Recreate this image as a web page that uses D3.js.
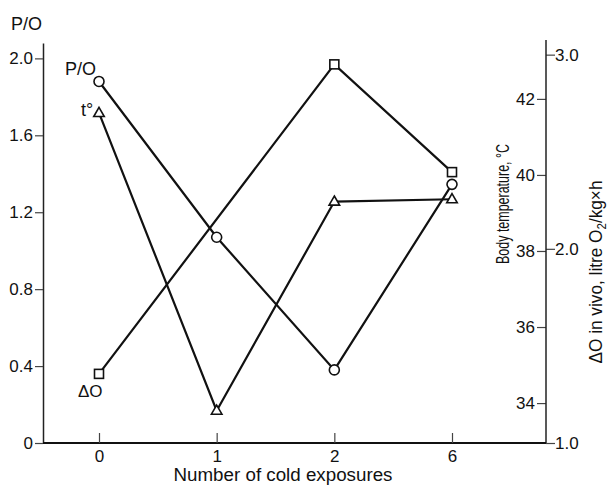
<!DOCTYPE html>
<html><head><meta charset="utf-8">
<script src="https://cdn.jsdelivr.net/npm/d3@7"></script>
<style>body{margin:0;background:#fff}text{font-family:"Liberation Sans",Arial,sans-serif;fill:#111}</style>
</head><body><svg id="c" width="613" height="487"></svg>
<script>
const categories = ["0","1","2","6"];
const poValues = [1.88, 1.07, 0.38, 1.345];
const tempValues = [41.63, 33.8, 39.3, 39.36];
const dOCats = ["0","2","6"];
const dOValues = [1.356, 2.95, 2.395];
const poTicks = [0, 0.4, 0.8, 1.2, 1.6, 2.0];
const tempTicks = [34, 36, 38, 40, 42];
const dOTicks = [1.0, 2.0, 3.0];

const svg = d3.select("#c");
const x = d3.scalePoint().domain(categories).range([99, 452]);
const yPO = d3.scaleLinear().domain([0, 2.08]).range([443, 43]);
const yT = d3.scaleLinear().domain([32.95, 43.47]).range([443, 43]);
const yD = d3.scaleLinear().domain([1, 3.06]).range([443, 43]);

const fs = 17;
const ff = '"Liberation Sans",Arial,sans-serif';
function styleAxis(g){
  g.attr("font-size", fs).attr("font-family", ff);
  g.selectAll(".tick line").attr("stroke","#444").attr("stroke-width",1.2);
  g.selectAll(".tick text").attr("fill","#111");
}
// left axis
const gl = svg.append("g").attr("transform","translate(43,0)")
  .call(d3.axisLeft(yPO).tickValues(poTicks).tickSize(8).tickSizeOuter(0)
    .tickFormat(d => d === 0 ? "0" : d3.format(".1f")(d)));
gl.select(".domain").attr("stroke","#222").attr("stroke-width",1.5);
styleAxis(gl);
gl.selectAll(".tick text").attr("x",-10);

// right axis
const rx = 546;
const gt = svg.append("g").attr("transform",`translate(${rx},0)`)
  .call(d3.axisLeft(yT).tickValues(tempTicks).tickSize(9).tickSizeOuter(0));
gt.select(".domain").remove();
styleAxis(gt);
gt.selectAll(".tick text").attr("x",-11);
const gd = svg.append("g").attr("transform",`translate(${rx},0)`)
  .call(d3.axisRight(yD).tickValues(dOTicks).tickSize(9).tickSizeOuter(0).tickFormat(d3.format(".1f")));
gd.select(".domain").remove();
styleAxis(gd);
gd.selectAll(".tick text").attr("x",9);
svg.append("line").attr("x1",rx).attr("x2",rx).attr("y1",40).attr("y2",443).attr("stroke","#222").attr("stroke-width",1.5);

// x axis
svg.append("line").attr("x1",43).attr("x2",rx).attr("y1",443).attr("y2",443).attr("stroke","#111").attr("stroke-width",1.8);
const gx = svg.append("g").attr("transform","translate(0,443)")
  .call(d3.axisTop(x).tickSize(10).tickSizeOuter(0));
gx.select(".domain").remove();
styleAxis(gx);
gx.selectAll(".tick text").attr("y",19).attr("dy","0");

// lines
const lineStyle = s => s.attr("fill","none").attr("stroke","#111").attr("stroke-width",2.2);
svg.append("path").datum(dOCats.map((c,i)=>[x(c), yD(dOValues[i])])).attr("d", d3.line()).call(lineStyle);
svg.append("path").datum(categories.map((c,i)=>[x(c), yT(tempValues[i])])).attr("d", d3.line()).call(lineStyle);
svg.append("path").datum(categories.map((c,i)=>[x(c), yPO(poValues[i])])).attr("d", d3.line()).call(lineStyle);

// markers
svg.selectAll(".sq").data(dOCats).enter().append("rect")
  .attr("x",(c)=>x(c)-4.5).attr("y",(c,i)=>yD(dOValues[i])-4.5).attr("width",9).attr("height",9)
  .attr("fill","#fff").attr("stroke","#111").attr("stroke-width",1.6);
const tri = d3.symbol().type(d3.symbolTriangle).size(48);
svg.selectAll(".tr").data(categories).enter().append("path")
  .attr("d",tri).attr("transform",(c,i)=>`translate(${x(c)},${yT(tempValues[i])+0.5})`)
  .attr("fill","#fff").attr("stroke","#111").attr("stroke-width",1.6);
svg.selectAll(".ci").data(categories).enter().append("circle")
  .attr("cx",c=>x(c)).attr("cy",(c,i)=>yPO(poValues[i])).attr("r",5)
  .attr("fill","#fff").attr("stroke","#111").attr("stroke-width",1.6);

// labels
svg.append("text").attr("x",11).attr("y",30).style("font-size","18px").text("P/O");
svg.append("text").attr("x",65).attr("y",75).style("font-size","18px").text("P/O");
svg.append("text").attr("x",81).attr("y",116).style("font-size","18px").text("t°");
svg.append("text").attr("x",78).attr("y",397).style("font-size","17px").text("ΔO");
svg.append("text").attr("x",283).attr("y",481).attr("text-anchor","middle").style("font-size","18px")
  .attr("textLength",219).attr("lengthAdjust","spacingAndGlyphs").text("Number of cold exposures");
svg.append("text").attr("transform","translate(509,204) rotate(-90)").attr("text-anchor","middle")
  .style("font-size","19px").attr("textLength",120).attr("lengthAdjust","spacingAndGlyphs").text("Body temperature, °C");
const t2 = svg.append("text").attr("transform","translate(602,272) rotate(-90)").attr("text-anchor","middle")
  .style("font-size","18px").attr("textLength",183).attr("lengthAdjust","spacingAndGlyphs");
t2.append("tspan").text("ΔO in vivo, litre O");
t2.append("tspan").attr("dy",4).style("font-size","12px").text("2");
t2.append("tspan").attr("dy",-4).text("/kg×h");
</script></body></html>
